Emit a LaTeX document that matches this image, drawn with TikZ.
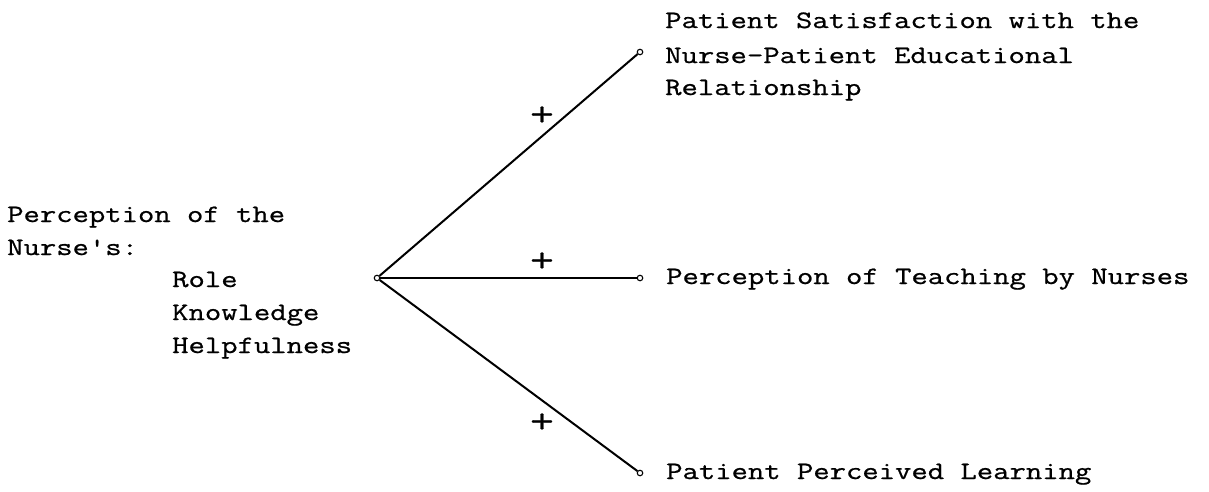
\documentclass[tikz,border=0pt]{standalone}
\usepackage{fontspec}
\newfontfamily\tw[FakeStretch=1.27,FakeBold=0.8]{Latin Modern Mono}
\begin{document}
\begin{tikzpicture}[x=1pt,y=-1pt,
  txt/.style={anchor=base west,inner sep=0pt,font=\tw\fontsize{25}{33}\selectfont},
  plus/.style={inner sep=0pt,font=\tw\fontsize{36}{36}\selectfont},
  endpt/.style={circle,draw,line width=1.1pt,minimum size=5.5pt,inner sep=0pt},
  link/.style={line width=2pt}]
\useasboundingbox (0,0) rectangle (1209,491);
% left block
\node[txt] (l1) at (7,222) {Perception of the};
\node[txt] (l2) at (7,255) {Nurse's:};
\node[txt] (l3) at (172,287) {Role};
\node[txt] (l4) at (172,320) {Knowledge};
\node[txt] (l5) at (172,353) {Helpfulness};
% right blocks
\node[txt] (t1) at (665,28) {Patient Satisfaction with the};
\node[txt] (t2) at (665,63) {Nurse-Patient Educational};
\node[txt] (t3) at (665,95) {Relationship};
\node[txt] (m1) at (666,284) {Perception of Teaching by Nurses};
\node[txt] (b1) at (666,479) {Patient Perceived Learning};
% end points
\node[endpt] (hub) at (377,278) {};
\node[endpt] (top) at (640,52) {};
\node[endpt] (mid) at (640,278) {};
\node[endpt] (bot) at (640,473) {};
% connectors
\draw[link] (hub) -- (top);
\draw[link] (hub) -- (mid);
\draw[link] (hub) -- (bot);
% signs
\node[plus] (p1) at (542,116) {+};
\node[plus] (p2) at (542,262) {+};
\node[plus] (p3) at (542,423) {+};
\end{tikzpicture}
\end{document}
